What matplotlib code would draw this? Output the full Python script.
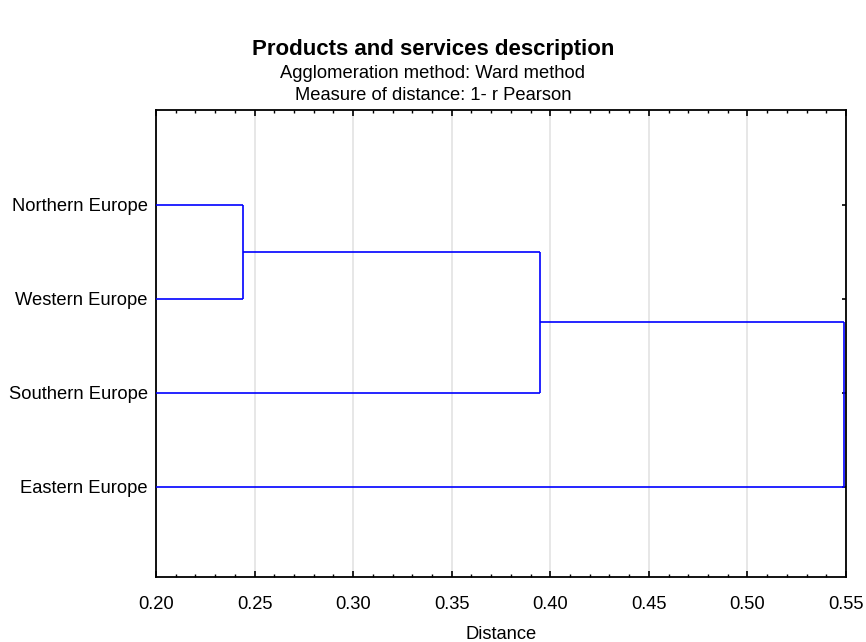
import matplotlib
matplotlib.use("Agg")
import matplotlib.pyplot as plt
from matplotlib.ticker import MultipleLocator

# Data
leaf_labels = ["Northern Europe", "Western Europe", "Southern Europe", "Eastern Europe"]
# merges: (cluster a, cluster b, distance); clusters 0..3 are leaves, 4.. new clusters
merge_a = [0, 4, 5]
merge_b = [1, 2, 3]
merge_dist = [0.244, 0.395, 0.549]
xticks = [0.20, 0.25, 0.30, 0.35, 0.40, 0.45, 0.50, 0.55]

plt.rcParams['font.family'] = ['Liberation Sans', 'DejaVu Sans']

fig = plt.figure(figsize=(8.66, 6.42), dpi=100)
ax = fig.add_axes([156/866, 1-577/642, 690/866, 467/642])

FS = 13.2
n = len(leaf_labels)
ypos = {i: n - i for i in range(n)}
xpos = {i: 0.0 for i in range(n)}
color = (0, 0, 1)
lw = 1.2
for k, (a, b, d) in enumerate(zip(merge_a, merge_b, merge_dist)):
    ya, yb = ypos[a], ypos[b]
    ax.plot([xpos[a], d], [ya, ya], color=color, lw=lw, clip_on=True,
            solid_capstyle='butt', zorder=3)
    ax.plot([xpos[b], d], [yb, yb], color=color, lw=lw, clip_on=True,
            solid_capstyle='butt', zorder=3)
    ax.plot([d, d], [ya, yb], color=color, lw=lw, clip_on=False, solid_capstyle='butt', zorder=3)
    new = n + k
    ypos[new] = (ya + yb) / 2
    xpos[new] = d

ax.set_xlim(0.20, 0.55)
ax.set_ylim(0.04, 5.01)
ax.set_xticks(xticks)
ax.set_xticklabels([f"{t:.2f}" for t in xticks], fontsize=FS)
ax.xaxis.set_minor_locator(MultipleLocator(0.01))
ax.set_yticks([ypos[i] for i in range(n)])
ax.set_yticklabels(leaf_labels, fontsize=FS)

ax.tick_params(axis='x', which='major', direction='in', top=True, bottom=True, length=4, width=1.2, pad=14)
ax.tick_params(axis='x', which='minor', direction='in', top=True, bottom=True, length=2.5, width=1)
ax.tick_params(axis='y', which='major', direction='in', left=False, right=True, length=3, width=1.2, pad=6)

ax.grid(axis='x', which='major', color='#e3e3e3', lw=1.2, zorder=0)
ax.set_axisbelow(True)
for s in ax.spines.values():
    s.set_linewidth(1.3)
    s.set_color('black')

ax.set_xlabel("Distance", fontsize=FS, labelpad=9)

fig.text(0.5, 1-49/642, "Products and services description", ha='center', va='center',
         fontsize=16, fontweight='bold')
fig.text(0.5, 1-73/642, "Agglomeration method: Ward method", ha='center', va='center', fontsize=FS)
fig.text(0.5, 1-96/642, "Measure of distance: 1- r Pearson", ha='center', va='center', fontsize=FS)

fig.savefig("out.png", dpi=100)
